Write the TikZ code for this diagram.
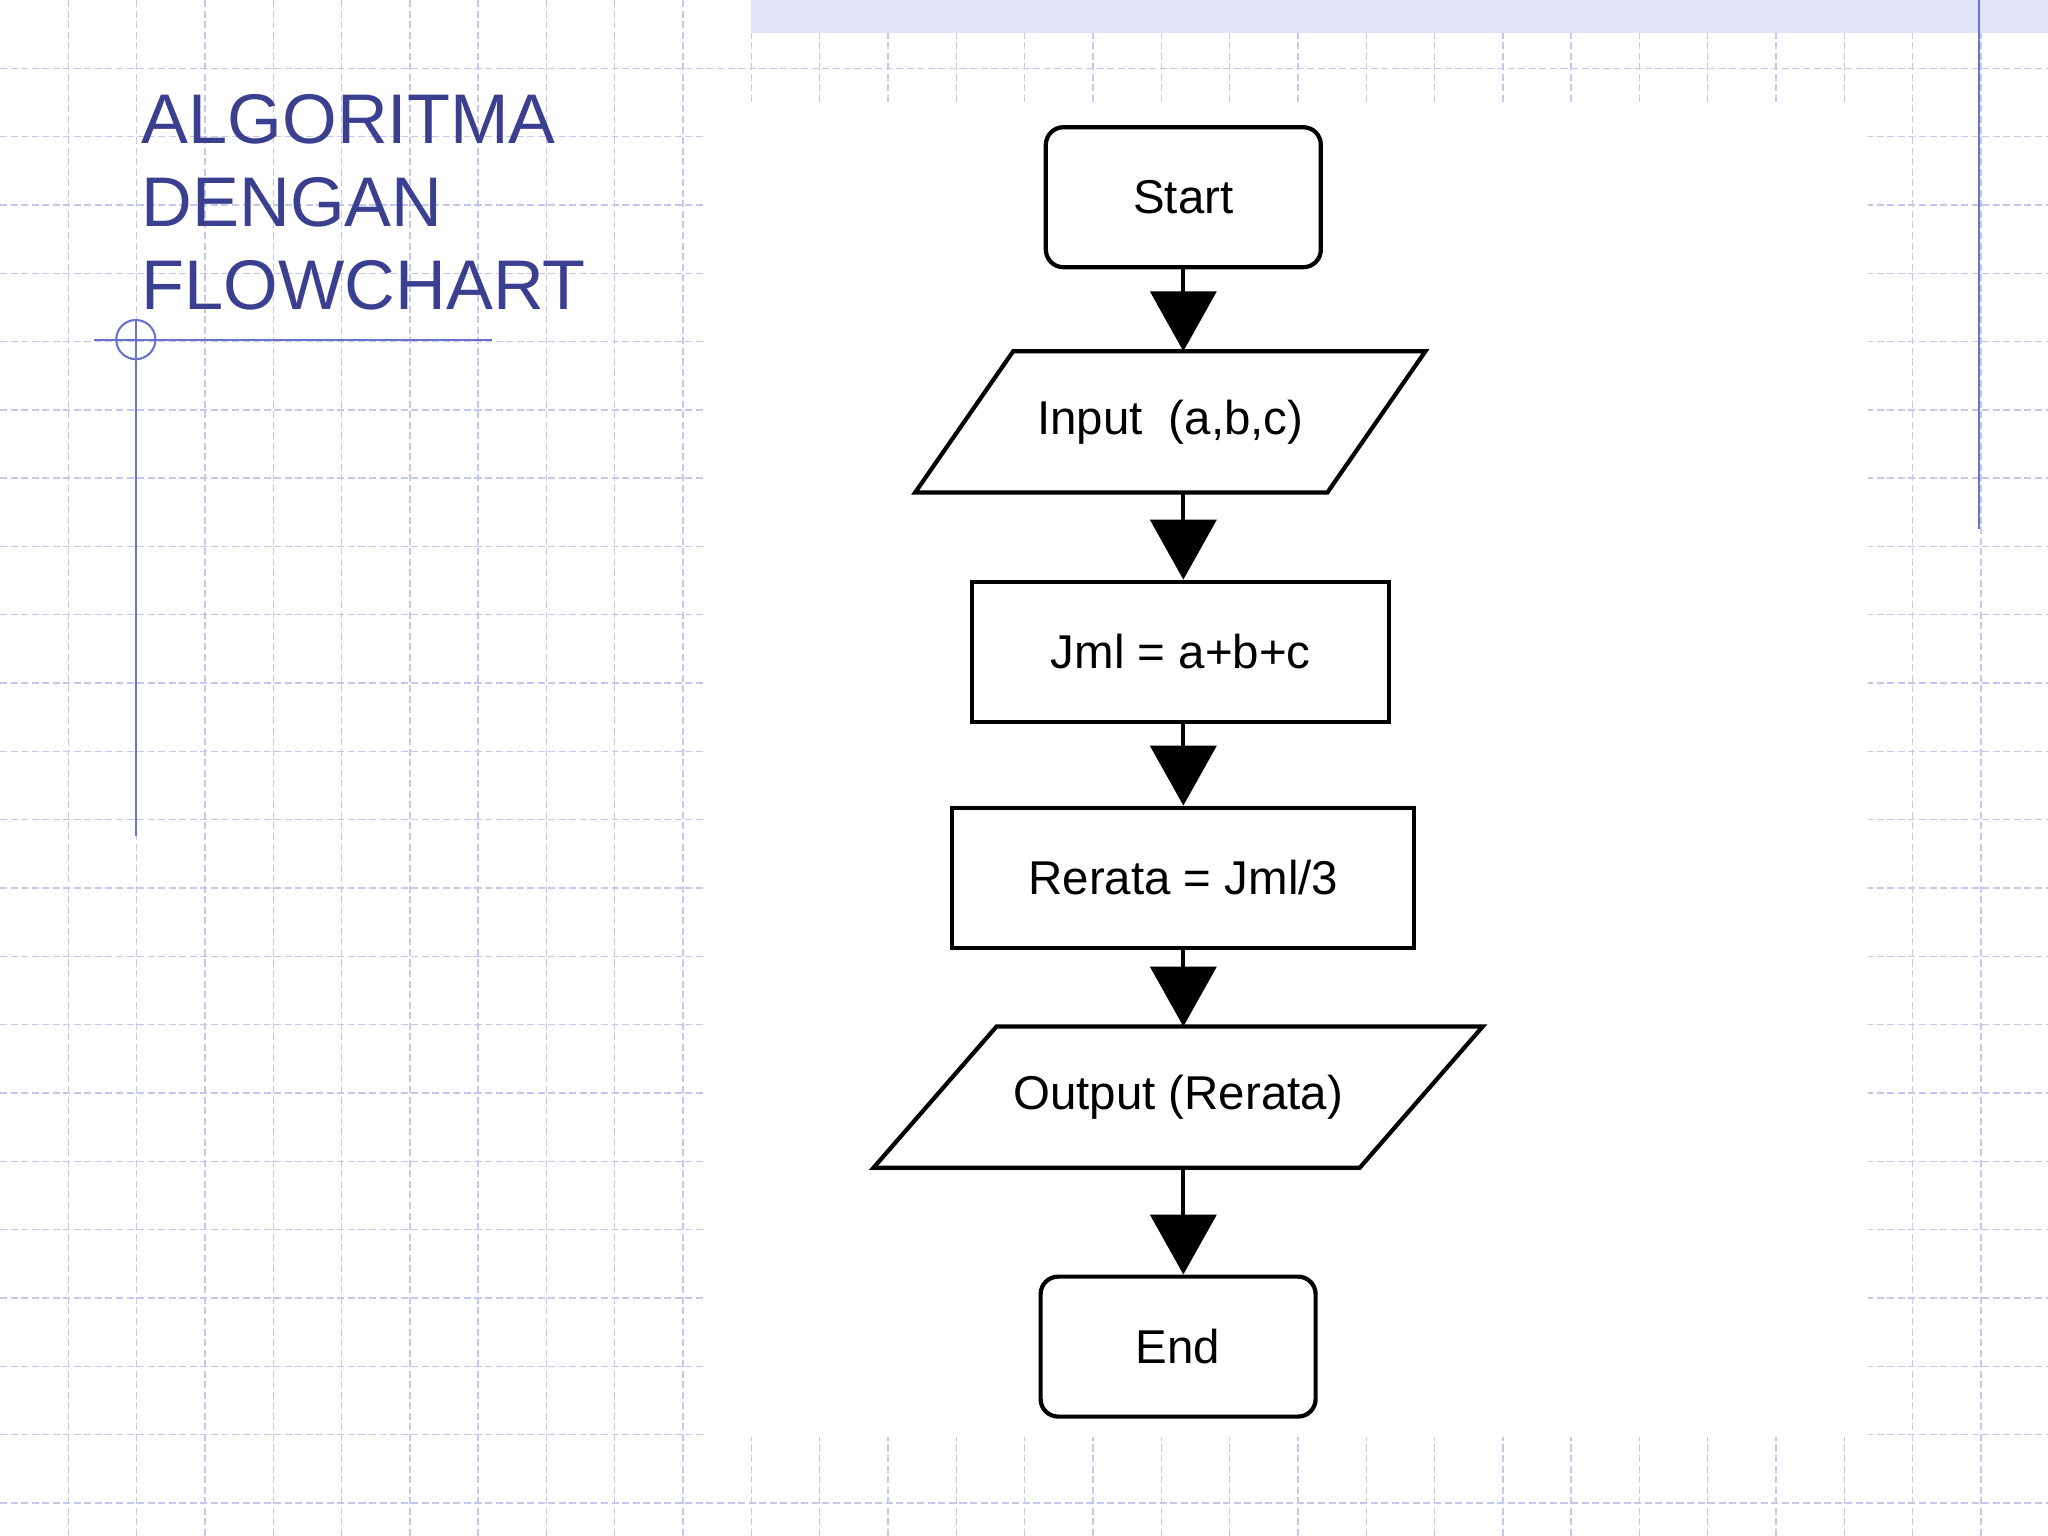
\documentclass[tikz,border=0pt]{standalone}
\usepackage{fontspec}
\setmainfont{Liberation Sans}
\newfontfamily\chartfont{Liberation Sans}
\usetikzlibrary{shapes.geometric,arrows.meta,positioning}
\definecolor{titleblue}{HTML}{3B3F8F}
\definecolor{gridblue}{HTML}{C4C8EC}
\definecolor{ruleblue}{HTML}{6A72D0}
\begin{document}
\begin{tikzpicture}[x=0.01306cm,y=-0.01306cm,
    box/.style={draw,line width=1.2pt,minimum width=#1,font=\chartfont\fontsize{13.5}{16}\selectfont,inner sep=0pt},
    term/.style={box=2.75cm,rounded corners=5pt,minimum height=1.4cm},
    proc/.style={box=#1,minimum height=1.4cm},
    io/.style={box=#1,draw=none,minimum height=1.37cm},
    slant/.style={line width=1.2pt},
    flow/.style={line width=1.2pt,-{Triangle[length=0.6cm,width=0.66cm]}}]
\useasboundingbox (0,0) rectangle (1568,1176);
% background grid
\foreach \i in {1,...,29} \draw[gridblue,dash pattern=on 2pt off 1pt,line width=0.4pt] (\i*52.3,0) -- (\i*52.3,1176);
\foreach \j in {1,...,22} \draw[gridblue,dash pattern=on 2pt off 1pt,line width=0.4pt] (0,\j*52.3) -- (1568,\j*52.3);
\fill[white] (540,80) rectangle (1430,1100);
\fill[gridblue!50] (575,0) rectangle (1568,25);
% title and rules
\node[anchor=north west,align=left,text=titleblue,font=\fontsize{20}{23.5}\selectfont,inner sep=0pt] (title) at (108,72) {ALGORITMA\\DENGAN\\FLOWCHART};
\draw[ruleblue,line width=0.6pt] (72,260) -- (377,260);
\draw[ruleblue,line width=0.6pt] (104,245) -- (104,640);
\draw[ruleblue,line width=0.6pt] (104,260) circle (15);
\draw[ruleblue,line width=0.6pt] (1515,0) -- (1515,405);
% flowchart
\node[term] (start) at (906,151) {Start};
\node[io=3.1cm] (input) at (896,323) {Input\ \ (a,b,c)};
\draw[slant] (input.north west) -- ([xshift=0.98cm]input.north east)
  -- (input.south east) -- ([xshift=-0.98cm]input.south west) -- cycle;
\node[proc=4.17cm] (jml) at (904,499) {Jml = a+b+c};
\node[proc=4.62cm] (rerata) at (906,672) {Rerata = Jml/3};
\node[io=3.59cm] (output) at (902,840) {Output (Rerata)};
\draw[slant] (output.north west) -- ([xshift=1.23cm]output.north east)
  -- (output.south east) -- ([xshift=-1.23cm]output.south west) -- cycle;
\node[term] (end) at (902,1031) {End};
\draw[flow] (start) -- (input.north -| start);
\draw[flow] (input.south -| start) -- (jml.north -| start);
\draw[flow] (jml.south -| start) -- (rerata.north -| start);
\draw[flow] (rerata.south -| start) -- (output.north -| start);
\draw[flow] (output.south -| start) -- (end.north -| start);
\end{tikzpicture}
\end{document}
